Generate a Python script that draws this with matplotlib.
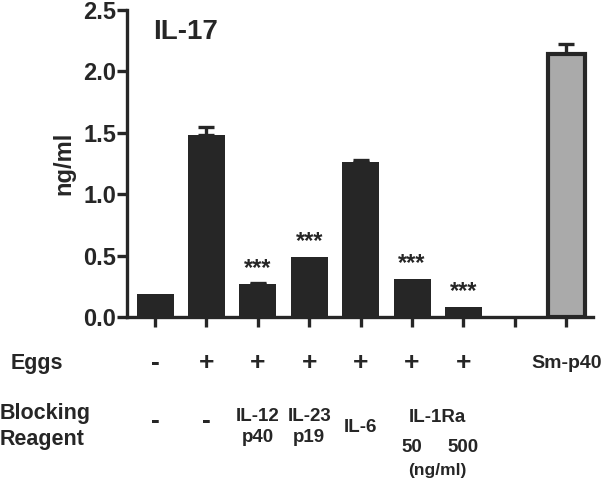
import matplotlib
matplotlib.use("Agg")
import matplotlib.pyplot as plt
import matplotlib.transforms as mtransforms
import numpy as np

plt.rcParams['font.family'] = ['Liberation Sans', 'DejaVu Sans']
plt.rcParams['font.weight'] = 'bold'

# ---- data ----
positions = [0, 1, 2, 3, 4, 5, 6, 8]
values = [0.19, 1.48, 0.27, 0.49, 1.26, 0.31, 0.08, 2.14]
errors = [0.0, 0.07, 0.01, 0.0, 0.02, 0.0, 0.0, 0.08]
colors = ['#262626'] * 7 + ['#aaaaaa']
stars = ['', '', '***', '***', '', '***', '***', '']
eggs_row = ['-', '+', '+', '+', '+', '+', '+', '', 'Sm-p40']
block_row = ['-', '-', 'IL-12\np40', 'IL-23\np19', 'IL-6', '', '', '', '']
il1ra_doses = ['50', '500']
yticks = [0.0, 0.5, 1.0, 1.5, 2.0, 2.5]
title = 'IL-17'
ylabel = 'ng/ml'

W, H = 601, 480
fig = plt.figure(figsize=(W / 100, H / 100), dpi=100)
ax = fig.add_axes([127 / W, 1 - 317 / H, (593 - 127) / W, (317 - 10) / H])

dark = '#262626'
for p, v, e, c in zip(positions, values, errors, colors):
    edge_lw = 3 if c != dark else 0
    ax.bar(p, v, width=0.72, color=c, edgecolor=dark, linewidth=edge_lw, zorder=3)
    if e > 0:
        ax.errorbar(p, v, yerr=[[0], [e]], fmt='none', ecolor=dark, elinewidth=2.4,
                    capsize=6, capthick=2.4, zorder=2)

for p, v, s in zip(positions, values, stars):
    if s:
        ax.text(p, v + 0.035, s, ha='center', va='bottom', fontsize=17, color=dark)

ax.set_xlim(-0.545, 8.52)
ax.set_ylim(0, 2.5)
ax.set_xticks(range(9))
ax.set_xticklabels([])
ax.set_yticks(yticks)
ax.set_yticklabels([f'{t:.1f}' for t in yticks], fontsize=17, fontweight='bold', color=dark)
for s in ['top', 'right']:
    ax.spines[s].set_visible(False)
for s in ['left', 'bottom']:
    ax.spines[s].set_linewidth(2.4)
    ax.spines[s].set_color(dark)
ax.tick_params(axis='both', length=7, width=2.4, color=dark, pad=1)

fig.text(64 / W, 1 - 163 / H, ylabel, rotation=90, ha='center', va='center',
         fontsize=17, fontweight='bold', color=dark)
fig.text(153 / W, 1 - 32 / H, title, ha='left', va='center', fontsize=20,
         fontweight='bold', color=dark)

tr = mtransforms.blended_transform_factory(ax.transData, fig.transFigure)
def fy(px):
    return 1 - px / H

fig.text(11 / W, fy(363), 'Eggs', ha='left', va='center', fontsize=15.5, color=dark)
fig.text(0 / W, fy(414), 'Blocking', ha='left', va='center', fontsize=15.5, color=dark)
fig.text(0 / W, fy(439), 'Reagent', ha='left', va='center', fontsize=15.5, color=dark)

for i, lab in enumerate(eggs_row):
    if lab:
        fs = 19 if lab in '+-' else 14
        ax.text(i, fy(363), lab, transform=tr, ha='center', va='center', fontsize=fs,
                color=dark)

for i, lab in enumerate(block_row):
    if not lab:
        continue
    if lab == '-':
        ax.text(i, fy(421), lab, transform=tr, ha='center', va='center', fontsize=19, color=dark)
    elif lab == 'IL-6':
        ax.text(i, fy(428), lab, transform=tr, ha='center', va='center', fontsize=13.5, color=dark)
    else:
        ax.text(i, fy(427), lab, transform=tr, ha='center', va='center', fontsize=13.5,
                color=dark, linespacing=1.35)

ax.text(5.5, fy(417), 'IL-1Ra', transform=tr, ha='center', va='center', fontsize=13.5, color=dark)
for i, d in zip([5, 6], il1ra_doses):
    ax.text(i, fy(448), d, transform=tr, ha='center', va='center', fontsize=13.5, color=dark)
ax.text(5.5, fy(470), '(ng/ml)', transform=tr, ha='center', va='center', fontsize=12.5, color=dark)

fig.savefig('out.png', dpi=100)
